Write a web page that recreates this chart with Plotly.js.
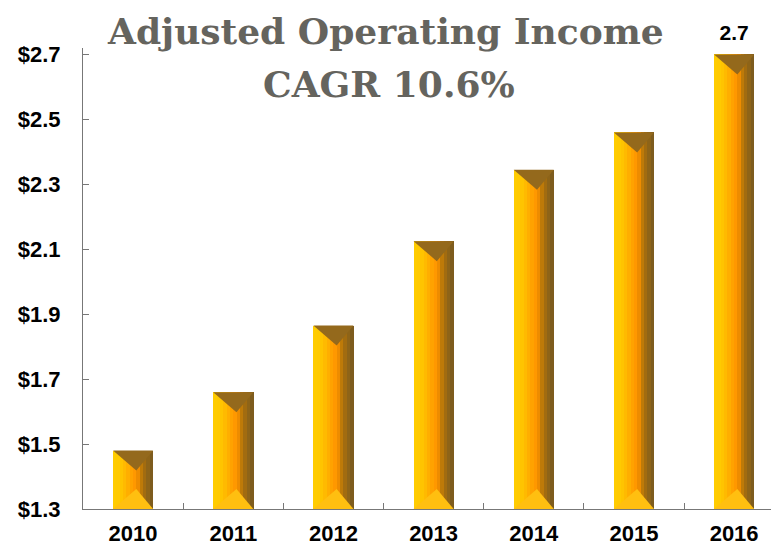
<!DOCTYPE html>
<html>
<head>
<meta charset="utf-8">
<script src="https://cdn.plot.ly/plotly-3.0.1.min.js"></script>
<style>html,body{margin:0;padding:0;background:#fff;}#chart{width:771px;height:546px;}</style>
</head>
<body>
<div id="chart"></div>
<script>
// ---- data ----
const years = ["2010", "2011", "2012", "2013", "2014", "2015", "2016"];
const income = [1.48, 1.66, 1.865, 2.125, 2.345, 2.46, 2.7];
const labelTexts = ["", "", "", "", "", "", "2.7"];
const yTickVals = [1.3, 1.5, 1.7, 1.9, 2.1, 2.3, 2.5, 2.7];
const yTickText = ["$1.3", "$1.5", "$1.7", "$1.9", "$2.1", "$2.3", "$2.5", "$2.7"];
const titleLine1 = "Adjusted Operating Income";
const titleLine2 = "CAGR 10.6%";

// ---- styling ----
const barW = 0.4;
const stripColors = ["#FFCC00","#FFCA00","#FFC400","#FFBA00","#FFAE00","#FFA200","#FF9800","#EE8C00","#BE7A08","#A26C10","#8E6418","#7E5C1E"];
const yMin = 1.3, yMax = 2.72;
const W = 771, H = 546, L = 83, R = 0, plotTop = 48, plotBottom = 37;
const pw = W - L - R, ph = H - plotTop - plotBottom;
const pxPerUnit = ph / (yMax - yMin);
const bevel = 20 / pxPerUnit;

const traces = [];
const n = stripColors.length;
const sw = barW / n;
stripColors.forEach((c, k) => {
  traces.push({
    type: "bar",
    x: years,
    y: income,
    width: sw + 0.003,
    offset: -barW / 2 + k * sw,
    marker: {color: c, line: {width: 0}},
    hoverinfo: "skip",
    showlegend: false
  });
});
// value label
traces.push({
  type: "scatter", mode: "markers+text",
  x: years, y: income, text: labelTexts,
  marker: {size: 14, color: "rgba(0,0,0,0)"},
  textposition: "top center", cliponaxis: false,
  textfont: {family: "Liberation Sans, Arial, sans-serif", size: 21, color: "#000", weight: "bold"},
  hoverinfo: "skip", showlegend: false
});

const shapes = [];
income.forEach((v, i) => {
  const x0 = i - barW / 2, x1 = i + barW / 2, xm = i - barW / 2 + barW * 0.58;
  shapes.push({
    type: "path", xref: "x", yref: "y",
    path: `M ${x0} ${v} L ${x1} ${v} L ${xm} ${v - bevel} Z`,
    fillcolor: "#94691C", line: {width: 0}, layer: "above"
  });
  shapes.push({
    type: "path", xref: "x", yref: "y",
    path: `M ${x0} ${yMin} L ${x1} ${yMin} L ${xm} ${yMin + bevel} Z`,
    fillcolor: "#FFBF10", line: {width: 0}, layer: "above"
  });
});

const cx = (W / 2 - L) / pw;
const annotations = [
  {
    xref: "paper", yref: "paper", x: cx, y: (H - plotBottom - 31) / ph, xanchor: "center", yanchor: "middle",
    text: titleLine1, showarrow: false,
    font: {family: "DejaVu Serif, serif", size: 36, color: "#65645E", weight: "bold"}
  },
  {
    xref: "paper", yref: "paper", x: cx + 3 / pw, y: (H - plotBottom - 84) / ph, xanchor: "center", yanchor: "middle",
    text: titleLine2, showarrow: false,
    font: {family: "DejaVu Serif, serif", size: 36, color: "#65645E", weight: "bold"}
  }
];

const tickFont = {family: "Liberation Sans, Arial, sans-serif", size: 22, color: "#000", weight: "bold"};
const layout = {
  width: W, height: H,
  margin: {l: L, r: R, t: plotTop, b: plotBottom, pad: 0},
  paper_bgcolor: "#fff", plot_bgcolor: "#fff",
  barmode: "overlay",
  bargap: 0,
  xaxis: {
    type: "category", range: [-0.5, -0.5 + pw / 100.17],
    ticks: "inside", tickson: "boundaries", ticklen: 6, tickcolor: "#777",
    showline: true, linecolor: "#777", linewidth: 1,
    showgrid: false, zeroline: false, tickfont: tickFont, ticklabelstandoff: 5, fixedrange: true
  },
  yaxis: {
    range: [yMin, yMax], tickvals: yTickVals, ticktext: yTickText,
    ticks: "inside", ticklen: 6, tickcolor: "#777",
    showline: true, linecolor: "#777", linewidth: 1,
    showgrid: false, zeroline: false, tickfont: tickFont, ticklabelstandoff: 17, fixedrange: true
  },
  shapes: shapes,
  annotations: annotations
};
Plotly.newPlot("chart", traces, layout, {displayModeBar: false, staticPlot: true});
</script>
</body>
</html>
